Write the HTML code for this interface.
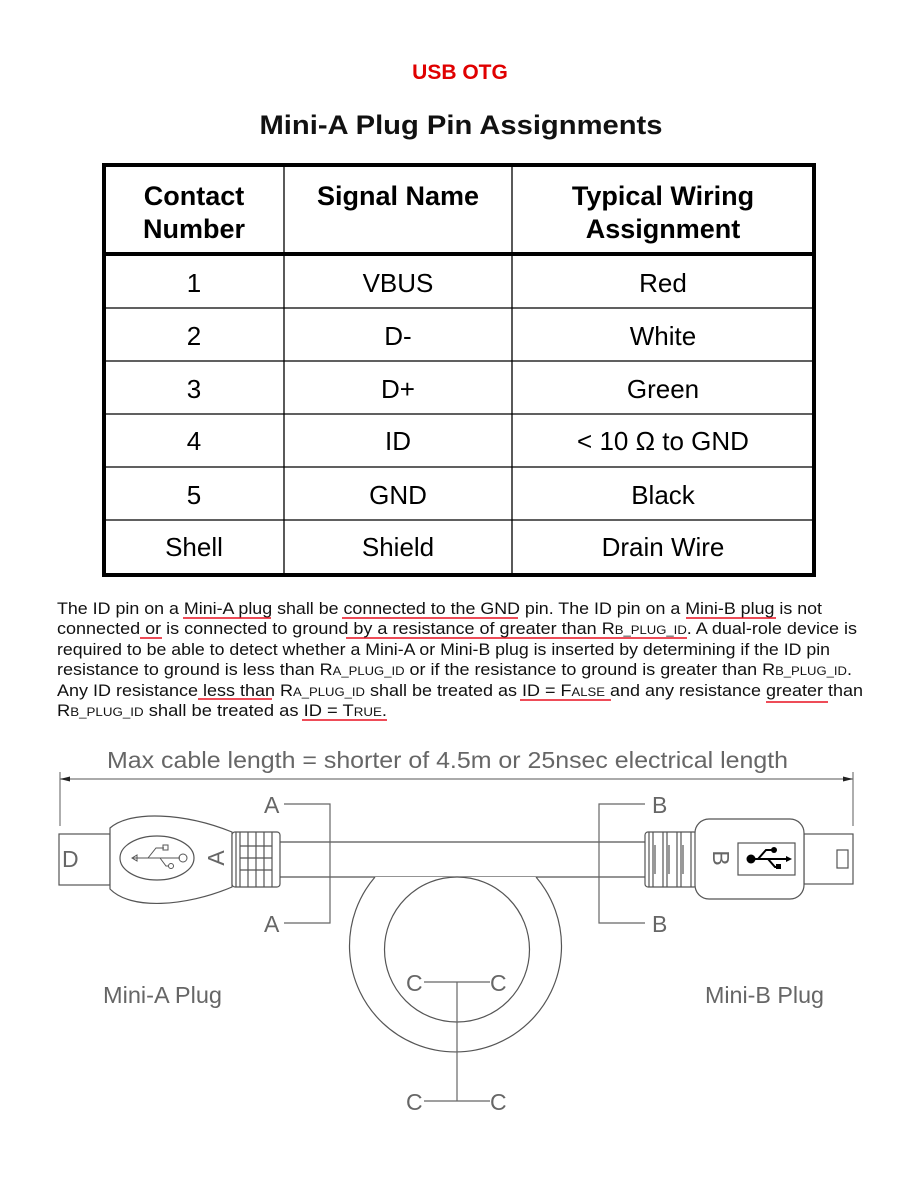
<!DOCTYPE html>
<html><head><meta charset="utf-8"><style>
html,body{margin:0;padding:0;background:#fff;width:920px;height:1191px;overflow:hidden}
svg{display:block}
.p{font-family:"Liberation Sans",Arial,sans-serif;font-size:16.5px;fill:#111}
.s{font-size:12px}
.d{font-family:"Liberation Sans",Arial,sans-serif;fill:#666;font-size:23px}
.th{font-family:"Liberation Sans",Arial,sans-serif;font-weight:bold;font-size:27px;fill:#000;text-anchor:middle}
.td{font-family:"Liberation Sans",Arial,sans-serif;font-size:26px;fill:#000;text-anchor:middle}
</style></head><body>
<svg width="920" height="1191" viewBox="0 0 920 1191" xmlns="http://www.w3.org/2000/svg">
<text x="460" y="79" text-anchor="middle" font-family="Liberation Sans,Arial,sans-serif" font-weight="bold" font-size="21" fill="#e00000">USB OTG</text>
<text x="461" y="134" text-anchor="middle" font-family="Liberation Sans,Arial,sans-serif" font-weight="bold" font-size="27" fill="#111" textLength="403" lengthAdjust="spacingAndGlyphs">Mini-A Plug Pin Assignments</text>

<!-- table -->
<rect x="104" y="165" width="710" height="410" fill="none" stroke="#000" stroke-width="4"/>
<line x1="104" y1="254" x2="814" y2="254" stroke="#000" stroke-width="4"/>
<g stroke="#000" stroke-width="1.3">
<line x1="284" y1="165" x2="284" y2="575"/><line x1="512" y1="165" x2="512" y2="575"/>
<line x1="104" y1="308" x2="814" y2="308"/><line x1="104" y1="361" x2="814" y2="361"/>
<line x1="104" y1="414" x2="814" y2="414"/><line x1="104" y1="467" x2="814" y2="467"/>
<line x1="104" y1="520" x2="814" y2="520"/>
</g>
<text class="th" x="194" y="205">Contact</text><text class="th" x="194" y="238">Number</text>
<text class="th" x="398" y="205">Signal Name</text>
<text class="th" x="663" y="205">Typical Wiring</text><text class="th" x="663" y="238">Assignment</text>
<text class="td" x="194" y="292">1</text><text class="td" x="398" y="292">VBUS</text><text class="td" x="663" y="292">Red</text>
<text class="td" x="194" y="345">2</text><text class="td" x="398" y="345">D-</text><text class="td" x="663" y="345">White</text>
<text class="td" x="194" y="398">3</text><text class="td" x="398" y="398">D+</text><text class="td" x="663" y="398">Green</text>
<text class="td" x="194" y="450">4</text><text class="td" x="398" y="450">ID</text><text class="td" x="663" y="450">&lt; 10 Ω to GND</text>
<text class="td" x="194" y="504">5</text><text class="td" x="398" y="504">GND</text><text class="td" x="663" y="504">Black</text>
<text class="td" x="194" y="556">Shell</text><text class="td" x="398" y="556">Shield</text><text class="td" x="663" y="556">Drain Wire</text>

<!-- paragraph -->
<text class="p" x="57" y="614" textLength="765" lengthAdjust="spacingAndGlyphs">The ID pin on a Mini-A plug shall be connected to the GND pin.  The ID pin on a Mini-B plug is not</text>
<text class="p" x="57" y="634" textLength="800" lengthAdjust="spacingAndGlyphs">connected or is connected to ground by a resistance of greater than R<tspan class="s">B_PLUG_ID</tspan>.  A dual-role device is</text>
<text class="p" x="57" y="655" textLength="773" lengthAdjust="spacingAndGlyphs">required to be able to detect whether a Mini-A or Mini-B plug is inserted by determining if the ID pin</text>
<text class="p" x="57" y="675" textLength="795" lengthAdjust="spacingAndGlyphs">resistance to ground is less than R<tspan class="s">A_PLUG_ID</tspan> or if the resistance to ground is greater than R<tspan class="s">B_PLUG_ID</tspan>.</text>
<text class="p" x="57" y="696" textLength="806" lengthAdjust="spacingAndGlyphs">Any ID resistance less than R<tspan class="s">A_PLUG_ID</tspan> shall be treated as ID = F<tspan class="s">ALSE</tspan> and any resistance greater than</text>
<text class="p" x="57" y="716" textLength="330" lengthAdjust="spacingAndGlyphs">R<tspan class="s">B_PLUG_ID</tspan> shall be treated as ID = T<tspan class="s">RUE</tspan>.</text>
<g stroke="#e81020" stroke-width="1.6" fill="none">
<path d="M183 618H271M342 618H518M686 618H776"/>
<path d="M140 638H162M346 638H687"/>
<path d="M198 699H272M520 700H611M766 702H828"/>
<path d="M302 720H387"/>
</g>

<!-- diagram -->
<text class="d" x="107" y="768" textLength="681" lengthAdjust="spacingAndGlyphs">Max cable length = shorter of 4.5m or 25nsec electrical length</text>
<g stroke="#777" stroke-width="1.2" fill="none">
<line x1="60" y1="779" x2="853" y2="779"/>
<line x1="60" y1="772" x2="60" y2="826"/>
<line x1="853" y1="772" x2="853" y2="826"/>
</g>
<path d="M60 779l10-2.5v5z M853 779l-10-2.5v5z" fill="#222"/>

<g stroke="#555" stroke-width="1.2" fill="#fff">
<!-- cable -->
<line x1="280" y1="842" x2="645" y2="842"/>
<line x1="280" y1="877" x2="645" y2="877"/>
<path d="M375 877 A106 106 0 1 0 536 877"/>
<circle cx="457" cy="949.5" r="72.5"/>
<!-- A plug -->
<rect x="59" y="834" width="51" height="51"/>
<path d="M110 828 C130 810 185 813 232 832 L232 887 C185 907 130 910 110 889 Z"/>
<ellipse cx="157" cy="858" rx="37" ry="22"/>
<rect x="232" y="832" width="48" height="55" rx="3"/>
<path d="M236 832V887M240 832V887M248 832V887M256 832V887M264 832V887M272 832V887M240 846H272M240 858H272M240 870H272" fill="none"/>
<!-- B plug -->
<rect x="804" y="834" width="49" height="50"/>
<rect x="837" y="850" width="11" height="18"/>
<rect x="645" y="832" width="52" height="55" rx="3"/>
<path d="M649 832V887M653 832V887M663 832V887M667 832V887M677 832V887M681 832V887M691 832V887M655 845V874M669 845V874M683 845V874" fill="none"/>
<rect x="695" y="819" width="109" height="80" rx="14"/>
<rect x="738" y="843" width="57" height="32"/>
</g>
<!-- usb glyph in A oval -->
<g stroke="#555" stroke-width="1" fill="none">
<path d="M132 858H180M132 858l5-3v6zM148 858l8-10h8M160 858l6 8h2"/>
<circle cx="183" cy="858" r="4"/>
<rect x="163" y="845" width="5" height="5"/><circle cx="171" cy="866" r="2.5"/>
</g>
<!-- usb glyph in B box -->
<g stroke="#000" stroke-width="2" fill="none">
<path d="M750 859H790M758 859l8-9h6M768 859l7 8h4"/>
</g>
<circle cx="751" cy="859" r="4.5" fill="#000"/><circle cx="774" cy="850" r="3" fill="#000"/>
<rect x="776" y="864" width="5" height="5" fill="#000"/><path d="M792 859l-6-3v6z" fill="#000"/>
<text class="d" x="0" y="0" font-size="20" transform="translate(224,858) rotate(-90)" text-anchor="middle">A</text>
<text class="d" x="0" y="0" font-size="20" transform="translate(713,858) rotate(90)" text-anchor="middle">B</text>
<text class="d" x="62" y="867" font-size="22">D</text>

<!-- brackets -->
<g stroke="#666" stroke-width="1.2" fill="none">
<path d="M284 804H330V923H284"/>
<path d="M645 804H599V923H645"/>
<path d="M424 982H490M457 982V1101M424 1101H490"/>
</g>
<g class="d" font-size="23">
<text x="264" y="813">A</text><text x="264" y="932">A</text>
<text x="652" y="813">B</text><text x="652" y="932">B</text>
<text x="406" y="991">C</text><text x="490" y="991">C</text>
<text x="406" y="1110">C</text><text x="490" y="1110">C</text>
<text x="103" y="1003" textLength="119" lengthAdjust="spacingAndGlyphs">Mini-A Plug</text>
<text x="705" y="1003" textLength="119" lengthAdjust="spacingAndGlyphs">Mini-B Plug</text>
</g>
</svg>
</body></html>
